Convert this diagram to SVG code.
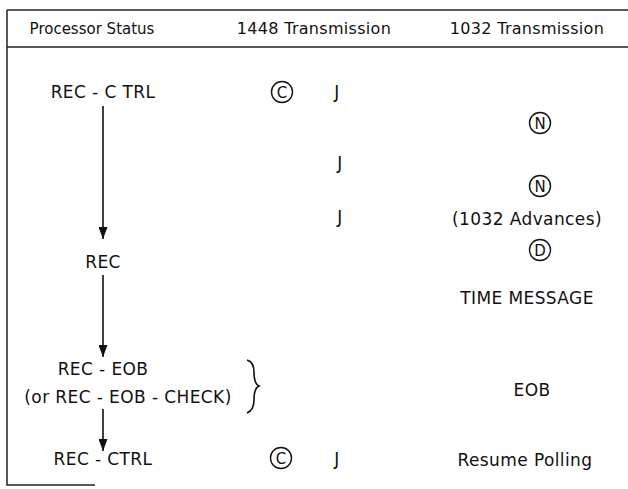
<svg xmlns="http://www.w3.org/2000/svg" width="628" height="489" viewBox="0 0 628 489">
<style>
text{font-family:"DejaVu Sans","Liberation Sans",Arial,sans-serif;font-size:17px;fill:#111;text-anchor:middle;letter-spacing:0.4px}
.hd{font-size:16px;letter-spacing:0.3px}
.frame{stroke:#222;stroke-width:1.5;fill:none}
.conn{stroke:#111;stroke-width:1.6;fill:none}
.ring{stroke:#111;stroke-width:1.4;fill:none}
.in{font-size:15px;letter-spacing:0}
</style>
<defs>
<marker id="ah" viewBox="0 0 12 9" refX="12" refY="4.5" markerWidth="12" markerHeight="9" markerUnits="userSpaceOnUse" orient="auto">
<path d="M0,0 L12,4.5 L0,9 z" fill="#111"/>
</marker>
</defs>
<g id="frame">
<path class="frame" d="M7,10 H628 M7,47 H628 M7,10 V485 H95"/>
</g>
<g id="header">
<text class="hd" x="92" y="34" style="font-size:15px;letter-spacing:0">Processor Status</text>
<text class="hd" x="314" y="34">1448 Transmission</text>
<text class="hd" x="527" y="34">1032 Transmission</text>
</g>
<g id="n-recctrl1"><text x="103" y="98">REC - C TRL</text></g>
<g id="n-c1"><circle class="ring" cx="282" cy="92" r="10.5"/><text class="in" x="282" y="97.5">C</text></g>
<g id="n-j1"><text x="337" y="98">J</text></g>
<g id="n-n1"><circle class="ring" cx="540" cy="123" r="10.5"/><text class="in" x="540" y="128.5">N</text></g>
<g id="n-j2"><text x="340" y="169">J</text></g>
<g id="n-n2"><circle class="ring" cx="540" cy="186" r="10.5"/><text class="in" x="540" y="191.5">N</text></g>
<g id="n-j3"><text x="340" y="223">J</text></g>
<g id="n-adv"><text x="527" y="225">(1032 Advances)</text></g>
<g id="n-rec"><text x="103" y="268">REC</text></g>
<g id="n-d"><circle class="ring" cx="540" cy="250" r="10.5"/><text class="in" x="540" y="255.5">D</text></g>
<g id="n-time"><text x="527" y="304">TIME MESSAGE</text></g>
<g id="n-receob"><text x="103" y="375">REC - EOB</text><text x="128" y="403">(or REC - EOB - CHECK)</text></g>
<g id="n-brace"><path class="conn" stroke-width="1.2" d="M247,360 Q254,362 254,372 Q254,384 259,386 Q254,388 254,400 Q254,410 247,413"/></g>
<g id="n-eob"><text x="532" y="396">EOB</text></g>
<g id="n-recctrl2"><text x="103" y="465">REC - CTRL</text></g>
<g id="n-c2"><circle class="ring" cx="281" cy="458" r="10.5"/><text class="in" x="281" y="463.5">C</text></g>
<g id="n-j4"><text x="337" y="465">J</text></g>
<g id="n-resume"><text x="525" y="466">Resume Polling</text></g>
<g id="connectors">
<line class="conn" x1="103" y1="106" x2="103" y2="239" marker-end="url(#ah)"/>
<line class="conn" x1="103" y1="275" x2="103" y2="357" marker-end="url(#ah)"/>
<line class="conn" x1="103" y1="409" x2="103" y2="451" marker-end="url(#ah)"/>
</g>
</svg>
